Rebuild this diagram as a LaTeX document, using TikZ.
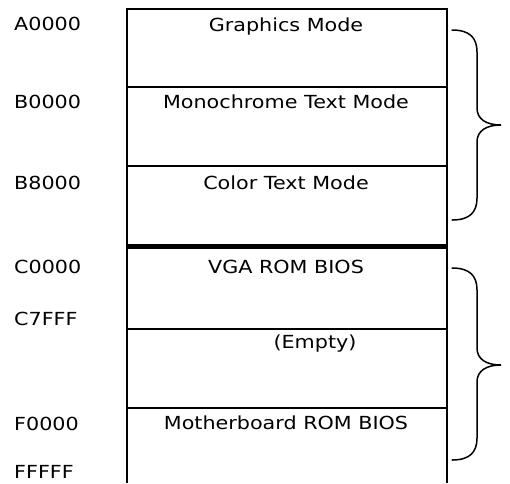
\documentclass[tikz,border=0pt]{standalone}
\usepackage{fontspec}
\setmainfont[FakeStretch=1.15]{DejaVu Sans}
\begin{document}
\begin{tikzpicture}[x=1pt,y=-1pt,
  addr/.style={anchor=base west,inner sep=0pt,font=\fontsize{18}{21}\selectfont},
  celltext/.style={anchor=base,inner sep=0pt,font=\fontsize{18}{21}\selectfont},
  thinline/.style={line width=1.8pt},
  thickline/.style={line width=5pt},
  bracepath/.style={line width=1.5pt,line cap=round}]
\useasboundingbox (0,0) rectangle (510,483);
% box frame
\coordinate (tl) at (127,9);
\coordinate (tr) at (447,9);
\coordinate (bl) at (127,483);
\coordinate (br) at (447,483);
\draw[thinline] (bl) -- (tl) -- (tr) -- (br);
% divisions
\coordinate (l1) at (127,87);   \coordinate (r1) at (447,87);
\coordinate (l2) at (127,166);  \coordinate (r2) at (447,166);
\coordinate (l3) at (127,246.5);\coordinate (r3) at (447,246.5);
\coordinate (l4) at (127,329);  \coordinate (r4) at (447,329);
\coordinate (l5) at (127,408);  \coordinate (r5) at (447,408);
\draw[thinline] (l1) -- (r1);
\draw[thinline] (l2) -- (r2);
\draw[thickline] (l3) -- (r3);
\draw[thinline] (l4) -- (r4);
\draw[thinline] (l5) -- (r5);
% address labels
\node[addr] (a0) at (14,30) {A0000};
\node[addr] (b0) at (14,108) {B0000};
\node[addr] (b8) at (14,189) {B8000};
\node[addr] (c0) at (14,273) {C0000};
\node[addr] (c7) at (14,325) {C7FFF};
\node[addr] (f0) at (14,430) {F0000};
\node[addr] (ff) at (14,478) {FFFFF};
% cell texts
\node[celltext] (gm) at (286,31) {Graphics Mode};
\node[celltext] (mt) at (286,108) {Monochrome Text Mode};
\node[celltext] (ct) at (286,189) {Color Text Mode};
\node[celltext] (vga) at (286,273) {VGA ROM BIOS};
\node[celltext] (emp) at (315,348) {(Empty)};
\node[celltext] (mb) at (286,429) {Motherboard ROM BIOS};
% braces
\draw[bracepath] (452,30) .. controls (470,30) and (477,38) .. (477,52) -- (477,108)
  .. controls (477,119) and (486,125) .. (501,125)
  .. controls (486,125) and (477,131) .. (477,142) -- (477,198)
  .. controls (477,212) and (470,220) .. (452,220);
\draw[bracepath] (452,268) .. controls (470,268) and (477,276) .. (477,290) -- (477,348)
  .. controls (477,359) and (486,365) .. (501,365)
  .. controls (486,365) and (477,371) .. (477,382) -- (477,438)
  .. controls (477,452) and (470,460) .. (452,460);
\end{tikzpicture}
\end{document}
